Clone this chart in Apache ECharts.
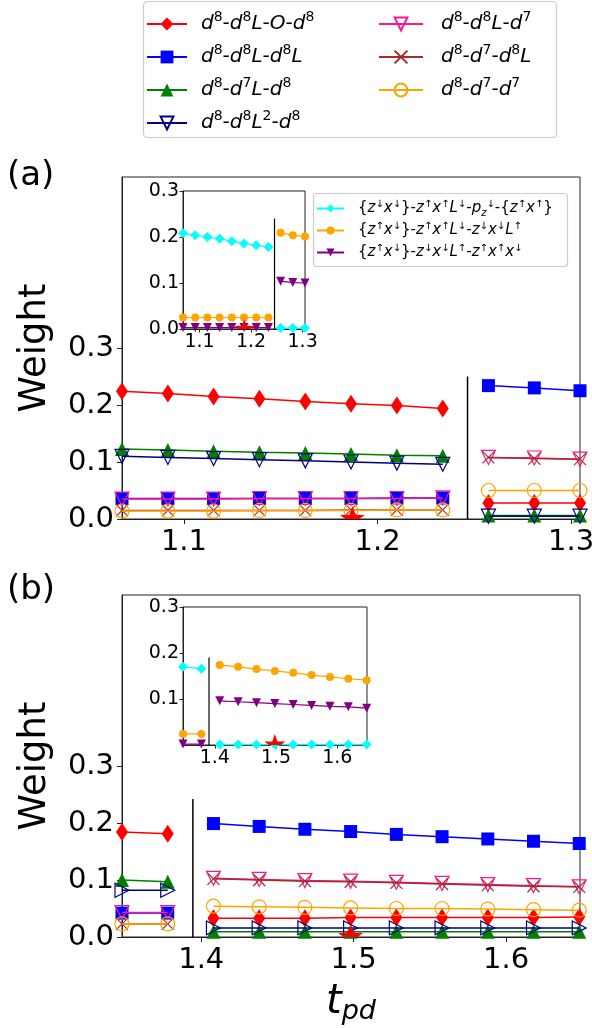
<!DOCTYPE html>
<html>
<head>
<meta charset="utf-8">
<script src="https://cdn.jsdelivr.net/npm/echarts@6/dist/echarts.min.js"></script>
<style>
  html, body { margin: 0; padding: 0; background: #fff; }
  #main { width: 592px; height: 1028px; }
</style>
</head>
<body>
<div id="main"></div>
<script>
// ---------------- data ----------------
// panel (a): t_pd grid, the jump sits between index 7 and 8
const tA = [1.068, 1.0917, 1.1153, 1.139, 1.1627, 1.1863, 1.21, 1.2337, 1.2573, 1.281, 1.3046];
const splitA = 8;
// panel (b): jump between index 1 and 2
const tB = [1.348, 1.378, 1.408, 1.438, 1.468, 1.498, 1.528, 1.558, 1.588, 1.618, 1.648];
const splitB = 2;

const aRed    = [0.224, 0.220, 0.215, 0.211, 0.206, 0.202, 0.199, 0.194, 0.028, 0.028, 0.028];
const aBlue   = [0.036, 0.036, 0.036, 0.036, 0.036, 0.036, 0.037, 0.037, 0.234, 0.230, 0.225];
const aGreen  = [0.123, 0.121, 0.119, 0.117, 0.116, 0.114, 0.112, 0.111, 0.006, 0.006, 0.006];
const aNavy   = [0.110, 0.108, 0.106, 0.104, 0.102, 0.100, 0.098, 0.096, 0.005, 0.005, 0.005];
const aPink   = [0.035, 0.035, 0.035, 0.036, 0.036, 0.036, 0.036, 0.037, 0.108, 0.107, 0.105];
const aBrown  = [0.015, 0.015, 0.015, 0.015, 0.015, 0.016, 0.016, 0.016, 0.108, 0.106, 0.105];
const aOrange = [0.014, 0.014, 0.014, 0.015, 0.015, 0.015, 0.016, 0.016, 0.050, 0.050, 0.050];

const aInCyan   = [0.208, 0.204, 0.200, 0.196, 0.191, 0.186, 0.182, 0.178, 0.002, 0.002, 0.002];
const aInOrange = [0.025, 0.025, 0.025, 0.025, 0.025, 0.025, 0.025, 0.025, 0.209, 0.204, 0.201];
const aInPurple = [0.003, 0.003, 0.003, 0.003, 0.003, 0.003, 0.003, 0.003, 0.104, 0.101, 0.100];

const bRed    = [0.184, 0.181, 0.033, 0.033, 0.033, 0.034, 0.034, 0.034, 0.034, 0.034, 0.035];
const bBlue   = [0.042, 0.042, 0.199, 0.194, 0.189, 0.185, 0.180, 0.176, 0.172, 0.168, 0.164];
const bGreen  = [0.100, 0.097, 0.009, 0.009, 0.009, 0.009, 0.009, 0.009, 0.009, 0.009, 0.009];
const bNavy   = [0.082, 0.082, 0.016, 0.016, 0.016, 0.016, 0.016, 0.016, 0.016, 0.016, 0.016];
const bPink   = [0.043, 0.043, 0.103, 0.101, 0.099, 0.098, 0.096, 0.094, 0.092, 0.090, 0.088];
const bBrown  = [0.023, 0.023, 0.102, 0.100, 0.098, 0.097, 0.095, 0.093, 0.091, 0.089, 0.088];
const bOrange = [0.023, 0.023, 0.054, 0.053, 0.052, 0.051, 0.050, 0.050, 0.049, 0.048, 0.047];

const bInCyan   = [0.170, 0.166, 0.001, 0.001, 0.001, 0.001, 0.001, 0.001, 0.001, 0.001, 0.001];
const bInOrange = [0.024, 0.024, 0.174, 0.170, 0.165, 0.161, 0.157, 0.152, 0.148, 0.144, 0.141];
const bInPurple = [0.002, 0.002, 0.096, 0.094, 0.092, 0.090, 0.088, 0.086, 0.084, 0.083, 0.080];

// vertical jump markers [t, top]
const jumpA = [1.2465, 0.25], jumpAIn = [1.2455, 0.24];
const jumpB = [1.3945, 0.242], jumpBIn = [1.3905, 0.19];
const starA = [1.187, 0], starB = [1.498, 0];

const xTicksA = [1.1, 1.2, 1.3];
const xTicksB = [1.4, 1.5, 1.6];
const yTicksMain = [0, 0.1, 0.2, 0.3];
const yTicksInA = [0, 0.1, 0.2, 0.3];
const yTicksInB = [0.1, 0.2, 0.3];

const names = ['d^8-d^8L-O-d^8', 'd^8-d^8L-d^8L', 'd^8-d^7L-d^8', 'd^8-d^8L^2-d^8',
               'd^8-d^8L-d^7', 'd^8-d^7-d^8L', 'd^8-d^7-d^7'];
const insetNames = ['{z^↓x^↓}-z^↑x^↑L^↓-p_z^↓-{z^↑x^↑}',
                    '{z^↑x^↓}-z^↑x^↑L^↓-z^↓x^↓L^↑',
                    '{z^↑x^↓}-z^↓x^↓L^↑-z^↑x^↑x^↓'];

// ---------------- styles ----------------
const F = 'DejaVu Sans';
const mainStyle = [
  { color: '#ff0000', symbol: 'diamond', size: [12, 18] },
  { color: '#0000ff', symbol: 'rect', size: 13 },
  { color: '#008000', symbol: 'triangle', size: 14 },
  { color: '#000080', symbol: 'triangle', size: 14, rotate: 180, hollow: true },
  { color: '#ff1493', symbol: 'triangle', size: 14, rotate: 180, hollow: true },
  { color: '#a52a2a', symbol: 'path://M0,0L10,10M10,0L0,10', size: 12, hollow: true },
  { color: '#ffa500', symbol: 'circle', size: 14, hollow: true }
];
const insetStyle = [
  { color: '#00ffff', symbol: 'diamond', size: 10 },
  { color: '#ffa500', symbol: 'circle', size: 8 },
  { color: '#800080', symbol: 'triangle', size: 9, rotate: 180 }
];

// mathtext-like label: ^ = superscript, _ = subscript
function mathText(spec) {
  let out = '';
  for (let k = 0; k < spec.length; k++) {
    const c = spec[k];
    if (c === '^') out += '{s|' + spec[++k] + '}';
    else if (c === '_') out += '{b|' + spec[++k] + '}';
    else if (c === '}') out += '{n|}}';
    else if (c === '-' || c === '{' || /[0-9]/.test(c)) out += '{n|' + c + '}';
    else out += '{i|' + c + '}';
  }
  return out;
}

function pairs(t, v, from, to) {
  const d = [];
  for (let k = from; k < to; k++) d.push([t[k], v[k]]);
  return d;
}

function curve(name, st, t, v, split, axis, lw, z) {
  const base = {
    type: 'line', name: name, xAxisIndex: axis, yAxisIndex: axis,
    symbol: st.symbol, symbolSize: st.size, symbolRotate: st.rotate || 0,
    showSymbol: true, clip: false, z: z,
    lineStyle: { color: st.color, width: lw },
    itemStyle: st.hollow
      ? { color: 'rgba(0,0,0,0)', borderColor: st.color, borderWidth: 1.2 }
      : { color: st.color, borderWidth: 0 },
    emphasis: { disabled: true }
  };
  return [
    Object.assign({}, base, { data: pairs(t, v, 0, split) }),
    Object.assign({}, base, { data: pairs(t, v, split, t.length) })
  ];
}

function jump(j, axis, lw) {
  return {
    type: 'line', name: 'jump', xAxisIndex: axis, yAxisIndex: axis, silent: true,
    symbol: 'none', data: [[j[0], 0], [j[0], j[1]]], z: 1,
    lineStyle: { color: '#000', width: lw }
  };
}

function star(p, axis, R) {
  return {
    type: 'custom', name: 'star', xAxisIndex: axis, yAxisIndex: axis, clip: true,
    silent: true, z: 6, data: [p],
    renderItem: function (params, api) {
      const c = api.coord([api.value(0), api.value(1)]);
      const pts = [];
      for (let k = 0; k < 10; k++) {
        const a = -Math.PI / 2 + k * Math.PI / 5;
        const r = k % 2 ? R * 0.4 : R;
        pts.push([c[0] + r * Math.cos(a), c[1] + r * Math.sin(a)]);
      }
      return { type: 'polygon', shape: { points: pts }, style: { fill: '#ff0000' } };
    }
  };
}

const series = [];
const valsA = [aRed, aBlue, aGreen, aNavy, aPink, aBrown, aOrange];
const valsB = [bRed, bBlue, bGreen, bNavy, bPink, bBrown, bOrange];
valsA.forEach((v, k) => series.push(...curve(names[k], mainStyle[k], tA, v, splitA, 0, 1.5, 2 + k * 0.01)));
[aInCyan, aInOrange, aInPurple].forEach((v, k) =>
  series.push(...curve(insetNames[k], insetStyle[k], tA, v, splitA, 1, 1.2, 3)));
valsB.forEach((v, k) => {
  const st = k === 3 ? Object.assign({}, mainStyle[k], { rotate: -90 }) : mainStyle[k];
  series.push(...curve(names[k], st, tB, v, splitB, 2, 1.5, 2 + k * 0.01));
});
[bInCyan, bInOrange, bInPurple].forEach((v, k) =>
  series.push(...curve(insetNames[k], insetStyle[k], tB, v, splitB, 3, 1.2, 3)));
series.push(jump(jumpA, 0, 1.5), jump(jumpAIn, 1, 1.2), jump(jumpB, 2, 1.5), jump(jumpBIn, 3, 1.2));
series.push(star(starA, 0, 13), star(starA, 1, 10), star(starB, 2, 13), star(starB, 3, 11));

// ---------------- axes ----------------
const frame = '#222';
function xAxis(grid, min, max, ticks, fs, extra) {
  return Object.assign({
    gridIndex: grid, type: 'value', min: min, max: max,
    axisLine: { show: true, onZero: false, lineStyle: { color: frame, width: 1 } },
    axisTick: { show: true, customValues: ticks, length: fs > 20 ? 5 : 3.5, lineStyle: { color: frame } },
    axisLabel: { customValues: ticks, fontSize: fs, fontFamily: F, color: '#000', margin: fs > 20 ? 9 : 4 },
    splitLine: { show: false }
  }, extra || {});
}
function yAxis(grid, max, ticks, fs, extra) {
  return Object.assign({
    gridIndex: grid, type: 'value', min: 0, max: max,
    axisLine: { show: true, onZero: false, lineStyle: { color: frame, width: 1 } },
    axisTick: { show: true, customValues: ticks, length: fs > 20 ? 5 : 3.5, lineStyle: { color: frame } },
    axisLabel: { customValues: ticks, fontSize: fs, fontFamily: F, color: '#000', margin: fs > 20 ? 8 : 4,
                 formatter: v => v.toFixed(1) },
    splitLine: { show: false }
  }, extra || {});
}
const weightName = {
  name: 'Weight', nameLocation: 'middle', nameGap: 68,
  nameTextStyle: { fontSize: 37, fontFamily: F, color: '#000' }
};

const gridBase = { show: true, borderColor: frame, borderWidth: 1, backgroundColor: '#fff',
                   containLabel: false, outerBoundsMode: 'none' };

const mainRich = {
  i: { fontFamily: F, fontSize: 20, fontStyle: 'italic', color: '#000', lineHeight: 28 },
  n: { fontFamily: F, fontSize: 20, color: '#000', lineHeight: 28 },
  s: { fontFamily: F, fontSize: 14, color: '#000', lineHeight: 13, verticalAlign: 'top' },
  b: { fontFamily: F, fontSize: 14, fontStyle: 'italic', color: '#000', lineHeight: 13, verticalAlign: 'bottom' }
};
const insetRich = {
  i: { fontFamily: F, fontSize: 15, fontStyle: 'italic', color: '#000', lineHeight: 19 },
  n: { fontFamily: F, fontSize: 15, color: '#000', lineHeight: 19 },
  s: { fontFamily: F, fontSize: 10, color: '#000', lineHeight: 8, verticalAlign: 'top' },
  b: { fontFamily: F, fontSize: 10, fontStyle: 'italic', color: '#000', lineHeight: 8, verticalAlign: 'bottom' }
};
function legend(data, left, top, w, h, gap, fs, lh, rich, pad) {
  return {
    data: data, orient: 'vertical', left: left, top: top, padding: 0,
    itemWidth: w, itemHeight: h, itemGap: gap, selectedMode: false, z: 20,
    formatter: mathText,
    textStyle: { fontFamily: F, fontSize: fs, color: '#000', height: lh, lineHeight: lh,
                 padding: [0, 0, 0, pad], rich: rich }
  };
}

const option = {
  animation: false,
  backgroundColor: '#fff',
  grid: [
    Object.assign({ left: 122, top: 177, width: 458, height: 342 }, gridBase),
    Object.assign({ left: 183, top: 191, width: 122, height: 138 }, gridBase),
    Object.assign({ left: 122, top: 595, width: 458, height: 342 }, gridBase),
    Object.assign({ left: 183, top: 607, width: 184, height: 138 }, gridBase)
  ],
  xAxis: [
    xAxis(0, 1.068, 1.3046, xTicksA, 29),
    xAxis(1, 1.068, 1.3046, xTicksA, 19),
    xAxis(2, 1.348, 1.6485, xTicksB, 29, {
      name: '{t|t}{s|pd}', nameLocation: 'middle', nameGap: 44,
      nameTextStyle: { rich: {
        t: { fontFamily: F, fontSize: 40, fontStyle: 'italic', color: '#000', lineHeight: 44 },
        s: { fontFamily: F, fontSize: 27, fontStyle: 'italic', color: '#000', lineHeight: 30, verticalAlign: 'bottom' }
      } }
    }),
    xAxis(3, 1.348, 1.6485, xTicksB, 19)
  ],
  yAxis: [
    yAxis(0, 0.6, yTicksMain, 29, weightName),
    yAxis(1, 0.3, yTicksInA, 19),
    yAxis(2, 0.6, yTicksMain, 29, weightName),
    yAxis(3, 0.3, yTicksInB, 19)
  ],
  legend: [
    legend(names.slice(0, 4), 146, 10, 40, 16, 5, 20, 28, mainRich, 9),
    legend(names.slice(4), 378, 10, 44, 16, 5, 20, 28, mainRich, 13),
    legend(insetNames, 316, 199, 27, 10, 3, 15, 19, insetRich, 9)
  ],
  graphic: [
    { type: 'rect', z: 3, shape: { x: 143.5, y: 1.5, width: 413, height: 136, r: 4 },
      style: { fill: '#fff', stroke: '#ccc', lineWidth: 1.2 } },
    { type: 'rect', z: 3, shape: { x: 313.5, y: 193.5, width: 254, height: 73, r: 3 },
      style: { fill: '#fff', stroke: '#ccc', lineWidth: 1.2 } },
    { type: 'text', z: 3, x: 7, y: 176,
      style: { text: '(a)', fontSize: 34, fontFamily: F, fill: '#000', verticalAlign: 'middle' } },
    { type: 'text', z: 3, x: 7, y: 590,
      style: { text: '(b)', fontSize: 34, fontFamily: F, fill: '#000', verticalAlign: 'middle' } }
  ],
  series: series
};

const chart = echarts.init(document.getElementById('main'), null, { renderer: 'canvas' });
chart.setOption(option);
</script>
</body>
</html>
